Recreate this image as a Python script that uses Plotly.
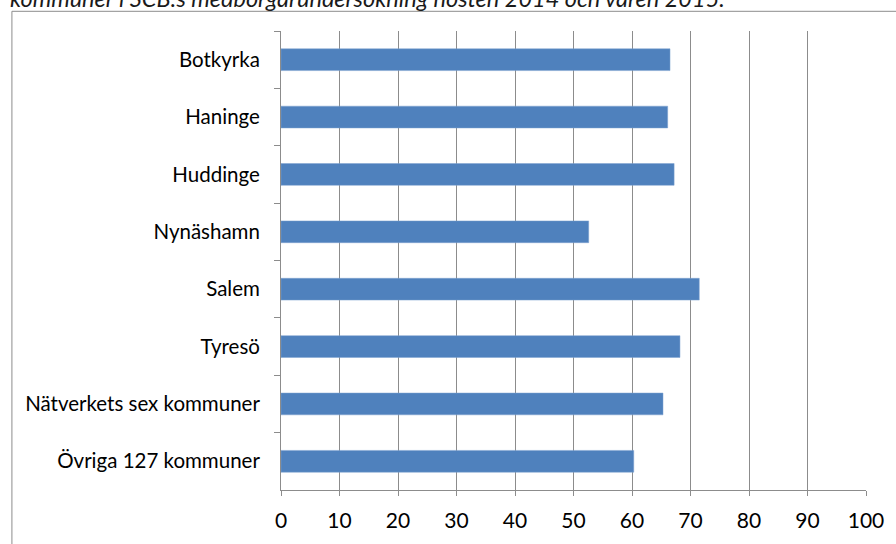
import plotly.graph_objects as go

categories = ["Botkyrka", "Haninge", "Huddinge", "Nynäshamn", "Salem", "Tyresö",
              "Nätverkets sex kommuner", "Övriga 127 kommuner"]
values = [66.5, 66.1, 67.2, 52.6, 71.5, 68.2, 65.3, 60.3]
x_ticks = [0, 10, 20, 30, 40, 50, 60, 70, 80, 90, 100]
title_text = "kommuner i SCB:s medborgarundersökning hösten 2014 och våren 2015."

W, H = 896, 544
ml, mr, mt, mb = 281, 28, 31, 47
pw, ph = W - ml - mr, H - mt - mb
FONT = "Lato, 'Open Sans', sans-serif"

fig = go.Figure(go.Bar(
    y=categories, x=values, orientation="h",
    marker=dict(color="#4F81BD", line=dict(color="#7FA3D0", width=0.5)),
))

fig.update_layout(
    width=W, height=H,
    margin=dict(l=ml, r=mr, t=mt, b=mb),
    paper_bgcolor="white", plot_bgcolor="white",
    font=dict(family=FONT, size=21, color="#000000"),
    bargap=0.62,
    showlegend=False,
    xaxis=dict(range=[0, 100], tickvals=x_ticks, showgrid=True, gridcolor="#8C8C8C",
               gridwidth=1, showline=True, linecolor="#8C8C8C", ticks="outside",
               ticklen=5, tickcolor="#8C8C8C", zeroline=False,
               tickfont=dict(size=21), ticklabelstandoff=7, fixedrange=True),
    yaxis=dict(autorange="reversed", showline=True, linecolor="#8C8C8C", ticks="outside",
               ticklen=6, tickcolor="#8C8C8C", tickson="boundaries", showgrid=False,
               ticklabelstandoff=16, tickfont=dict(size=20.5)),
    shapes=[dict(type="rect", xref="paper", yref="paper",
                 x0=(11 - ml) / pw, x1=(905 - ml) / pw,
                 y0=-(mb + 10) / ph, y1=1 + (mt - 11) / ph,
                 line=dict(color="#8C8C8C", width=1), fillcolor="rgba(0,0,0,0)")],
    annotations=[dict(text="<i>" + title_text + "</i>", xref="paper", yref="paper",
                      x=(7 - ml) / pw, xanchor="left", y=1 + (mt + 3) / ph, yanchor="middle",
                      showarrow=False, font=dict(size=23.5, family=FONT, color="#1a1a1a"))],
)

fig.write_html("out.html", config={"displayModeBar": False},
               post_script="document.body.style.margin='0';")
